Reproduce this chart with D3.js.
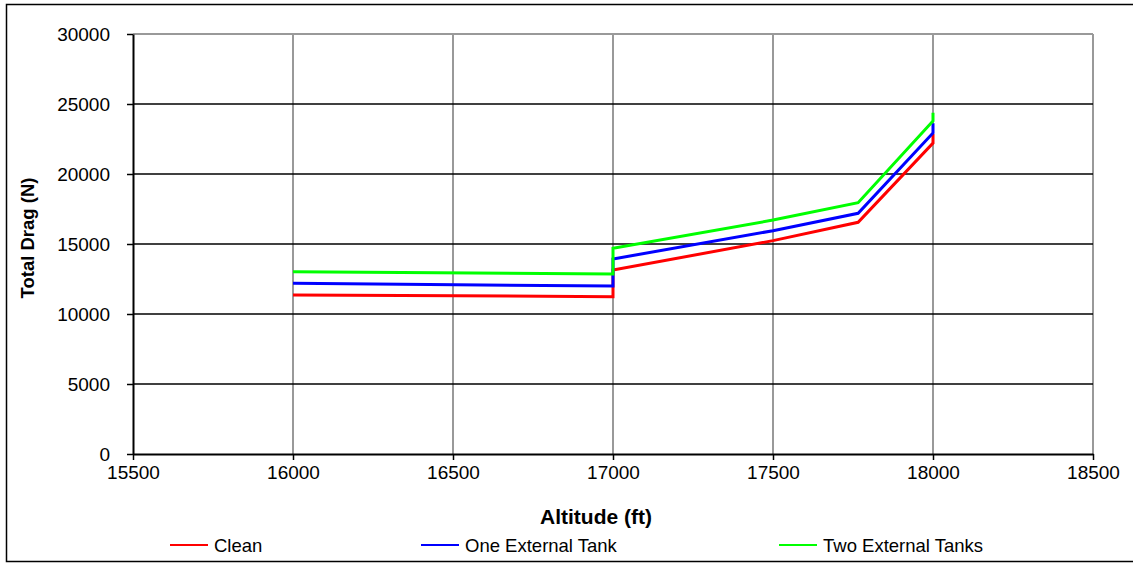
<!DOCTYPE html>
<html>
<head>
<meta charset="utf-8">
<script src="https://cdn.jsdelivr.net/npm/d3@7/dist/d3.min.js"></script>
<style>
  html, body { margin: 0; padding: 0; background: #fff; }
  svg { display: block; font-family: "Liberation Sans", Arial, sans-serif; }
</style>
</head>
<body>
<svg id="chart" width="1133" height="563"></svg>
<script>
// Total drag vs altitude for three store configurations
const altitudeClean = [16000, 17000, 17000, 17500, 17766, 18000, 18000];
const dragClean     = [11360, 11240, 13140, 15240, 16550, 22210, 22860];

const altitudeOne   = [16000, 17000, 17000, 17500, 17766, 18000, 18000];
const dragOne       = [12190, 12000, 13930, 15950, 17190, 22930, 23620];

const altitudeTwo   = [16000, 17000, 17000, 17500, 17766, 18000, 18000];
const dragTwo       = [13020, 12860, 14690, 16710, 17950, 23790, 24380];

const seriesNames   = ["Clean", "One External Tank", "Two External Tanks"];
const seriesColors  = ["#ff0000", "#0000ff", "#00ff00"];

const xTicks = [15500, 16000, 16500, 17000, 17500, 18000, 18500];
const yTicks = [0, 5000, 10000, 15000, 20000, 25000, 30000];

const series = [
  { name: seriesNames[0], color: seriesColors[0], xs: altitudeClean, ys: dragClean },
  { name: seriesNames[1], color: seriesColors[1], xs: altitudeOne,   ys: dragOne },
  { name: seriesNames[2], color: seriesColors[2], xs: altitudeTwo,   ys: dragTwo }
];

const svg = d3.select("#chart");
const plot = { left: 133, top: 34, right: 1093, bottom: 454 };

const x = d3.scaleLinear().domain([15500, 18500]).range([plot.left, plot.right]);
const y = d3.scaleLinear().domain([0, 30000]).range([plot.bottom, plot.top]);

// outer frame
svg.append("rect")
  .attr("x", 6.5).attr("y", 4.5)
  .attr("width", 1140).attr("height", 557)
  .attr("fill", "#fff").attr("stroke", "#000").attr("stroke-width", 1.5);

// vertical gridlines (grey)
svg.append("g")
  .selectAll("line")
  .data(xTicks.slice(1))
  .join("line")
  .attr("x1", d => x(d)).attr("x2", d => x(d))
  .attr("y1", plot.top).attr("y2", plot.bottom)
  .attr("stroke", "#999").attr("stroke-width", 2);

// horizontal gridlines (black)
svg.append("g")
  .selectAll("line")
  .data(yTicks.slice(1, -1))
  .join("line")
  .attr("x1", plot.left).attr("x2", plot.right)
  .attr("y1", d => y(d)).attr("y2", d => y(d))
  .attr("stroke", "#000").attr("stroke-width", 1.5);

// top border of plot area
svg.append("line")
  .attr("x1", plot.left).attr("x2", plot.right)
  .attr("y1", plot.top).attr("y2", plot.top)
  .attr("stroke", "#999").attr("stroke-width", 2);

// axes
const xAxis = d3.axisBottom(x).tickValues(xTicks).tickSize(6).tickSizeOuter(0).tickPadding(6)
  .tickFormat(d3.format("d"));
const yAxis = d3.axisLeft(y).tickValues(yTicks).tickSize(6).tickSizeOuter(0).tickPadding(17)
  .tickFormat(d3.format("d"));

const gx = svg.append("g").attr("transform", `translate(0,${plot.bottom})`).call(xAxis);
const gy = svg.append("g").attr("transform", `translate(${plot.left},0)`).call(yAxis);

[gx, gy].forEach(g => {
  g.selectAll(".domain").attr("stroke", "#000").attr("stroke-width", 2);
  g.selectAll(".tick line").attr("stroke", "#000").attr("stroke-width", 1.5);
  g.selectAll(".tick text")
    .attr("fill", "#000")
    .style("font-family", "'Liberation Sans', Arial, sans-serif")
    .style("font-size", "19px");
});

// series lines
const line = d3.line().x(d => x(d[0])).y(d => y(d[1]));
svg.append("g")
  .selectAll("path")
  .data(series)
  .join("path")
  .attr("d", s => line(s.xs.map((v, i) => [v, s.ys[i]])))
  .attr("fill", "none")
  .attr("stroke", s => s.color)
  .attr("stroke-width", 3)
  .attr("stroke-linejoin", "miter");

// axis titles
svg.append("text")
  .attr("x", 596).attr("y", 524)
  .attr("text-anchor", "middle")
  .style("font-size", "21px").style("font-weight", "bold")
  .text("Altitude (ft)");

svg.append("text")
  .attr("transform", `translate(34,238) rotate(-90)`)
  .attr("text-anchor", "middle")
  .style("font-size", "18.5px").style("font-weight", "bold")
  .text("Total Drag (N)");

// legend
const legendX = [170, 421, 779];
const legend = svg.append("g")
  .selectAll("g")
  .data(series)
  .join("g")
  .attr("transform", (d, i) => `translate(${legendX[i]},545)`);
legend.append("line")
  .attr("x1", 0).attr("x2", 38)
  .attr("stroke", d => d.color).attr("stroke-width", 2);
legend.append("text")
  .attr("x", 44).attr("y", 6.5)
  .style("font-size", "18.5px")
  .text(d => d.name);
</script>
</body>
</html>
